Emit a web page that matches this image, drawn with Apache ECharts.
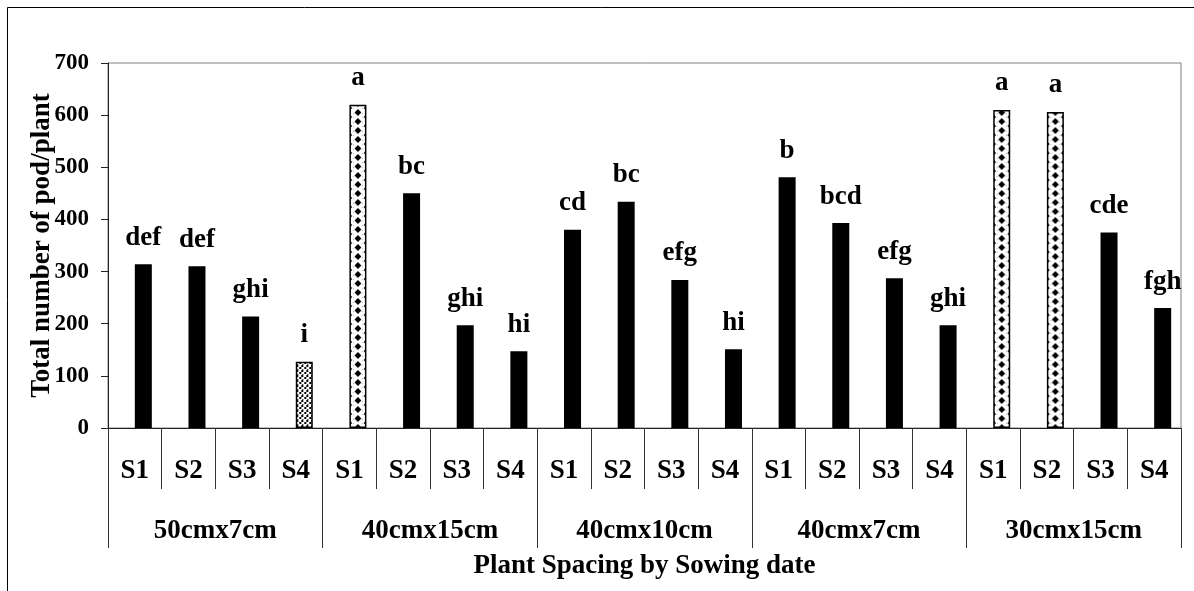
<!DOCTYPE html>
<html>
<head>
<meta charset="utf-8">
<title>Total number of pod/plant</title>
<script src="https://cdn.jsdelivr.net/npm/echarts@6/dist/echarts.min.js"></script>
<style>
  html, body { margin: 0; padding: 0; background: #fff; }
  #chartbox { width: 1194px; height: 591px; }
</style>
</head>
<body>
<div id="chartbox"></div>
<script>
// sowing date under each spacing
var sowingDates = ['S1', 'S2', 'S3', 'S4', 'S1', 'S2', 'S3', 'S4', 'S1', 'S2',
                   'S3', 'S4', 'S1', 'S2', 'S3', 'S4', 'S1', 'S2', 'S3', 'S4'];
var spacings = ['50cmx7cm', '40cmx15cm', '40cmx10cm', '40cmx7cm', '30cmx15cm'];
// pods per plant
var podCounts = [314, 310, 214, 127, 620, 450, 197, 147, 380, 434,
                 284, 151, 481, 393, 287, 197, 610, 606, 375, 230];
// DMRT letters over the bars
var letters = ['def', 'def', 'ghi', 'i', 'a', 'bc', 'ghi', 'hi', 'cd', 'bc',
               'efg', 'hi', 'b', 'bcd', 'efg', 'ghi', 'a', 'a', 'cde', 'fgh'];
var yMin = 0, yMax = 700, yStep = 100;

var FONT = "'Liberation Serif', 'Times New Roman', serif";

/**
 * diamond fill used on the 'a' bars
 */
function diamondTile() {
    var c = document.createElement('canvas');
    c.width = 16; c.height = 9;
    var g = c.getContext('2d');
    g.fillStyle = '#fff';
    g.fillRect(0, 0, 16, 9);
    g.fillStyle = '#bbb';
    g.fillRect(3, 0, 1, 1); g.fillRect(12, 0, 1, 1);
    g.fillRect(3, 5, 1, 1); g.fillRect(12, 5, 1, 1);
    g.fillStyle = '#000';
    var pts = [[8, 4.5, 3.4], [0, 0, 2.2], [16, 0, 2.2], [0, 9, 2.2], [16, 9, 2.2]];
    pts.forEach(function (p) {
        g.beginPath();
        g.moveTo(p[0], p[1] - p[2]);
        g.lineTo(p[0] + p[2], p[1]);
        g.lineTo(p[0], p[1] + p[2]);
        g.lineTo(p[0] - p[2], p[1]);
        g.closePath();
        g.fill();
    });
    return c;
}

/**
 * fine dots used on the 'i' bar
 */
function dotTile() {
    var c = document.createElement('canvas');
    c.width = 5; c.height = 5;
    var g = c.getContext('2d');
    g.fillStyle = '#fff';
    g.fillRect(0, 0, 5, 5);
    g.fillStyle = '#000';
    g.fillRect(0, 0, 2, 2);
    g.fillRect(3, 2, 2, 2);
    g.fillRect(1, 4, 1, 1);
    return c;
}

var diamonds = diamondTile();
var dots = dotTile();

function barItems(offsets) {
    return podCounts.map(function (v, i) {
        var ox = offsets ? offsets[i] : 0;
        if (letters[i] === 'a') {
            return { value: v, itemStyle: { color: { image: diamonds, repeat: 'repeat', x: ox, y: 0 }, borderColor: '#000', borderWidth: 1.5 } };
        }
        if (letters[i] === 'i') {
            return { value: v, itemStyle: { color: { image: dots, repeat: 'repeat', x: ox, y: 0 }, borderColor: '#000', borderWidth: 1.5 } };
        }
        return { value: v };
    });
}

var chart = echarts.init(document.getElementById('chartbox'));

var option = {
    animation: false,
    backgroundColor: '#fff',
    graphic: [{
        type: 'rect',
        shape: { x: 7.5, y: 7.5, width: 1400, height: 800 },
        style: { fill: 'none', stroke: '#000', lineWidth: 1 },
        silent: true
    }],
    grid: {
        left: 108, right: 13, top: 63, bottom: 163,
        show: true,
        borderColor: '#808080',
        borderWidth: 1
    },
    xAxis: [{
        type: 'category',
        data: sowingDates,
        position: 'bottom',
        axisLine: { lineStyle: { color: '#222', width: 1 } },
        axisTick: { show: true, interval: 0, length: 61, lineStyle: { color: '#333' } },
        axisLabel: { interval: 0, margin: 30, color: '#000', fontFamily: FONT, fontWeight: 'bold', fontSize: 27 }
    }, {
        type: 'category',
        data: spacings,
        position: 'bottom',
        axisLine: { show: false },
        axisTick: { show: true, interval: 0, length: 120, lineStyle: { color: '#333' } },
        axisLabel: { interval: 0, margin: 90, color: '#000', fontFamily: FONT, fontWeight: 'bold', fontSize: 27 },
        name: 'Plant Spacing by Sowing date',
        nameLocation: 'middle',
        nameGap: 125,
        nameMoveOverlap: false,
        nameTextStyle: { color: '#000', fontFamily: FONT, fontWeight: 'bold', fontSize: 27 }
    }],
    yAxis: {
        type: 'value',
        min: yMin,
        max: yMax,
        interval: yStep,
        splitLine: { show: false },
        axisLine: { show: true, lineStyle: { color: '#222' } },
        axisTick: { show: true, length: 7, lineStyle: { color: '#222' } },
        axisLabel: { margin: 19, color: '#000', fontFamily: FONT, fontWeight: 'bold', fontSize: 23 },
        name: 'Total number of pod/plant',
        nameLocation: 'middle',
        nameRotate: 90,
        nameGap: 52,
        nameMoveOverlap: false,
        nameTextStyle: { color: '#000', fontFamily: FONT, fontWeight: 'bold', fontSize: 27 }
    },
    series: [{
        // empty slot so the bars sit right of the category centre
        type: 'bar',
        xAxisIndex: 0,
        data: podCounts.map(function () { return '-'; }),
        barWidth: 17,
        barGap: '0%'
    }, {
        type: 'bar',
        xAxisIndex: 0,
        data: barItems(),
        barWidth: 17,
        barGap: '0%',
        itemStyle: { color: '#000' },
        emphasis: { disabled: true },
        label: {
            show: true,
            position: 'top',
            distance: 13,
            color: '#000',
            fontFamily: FONT,
            fontWeight: 'bold',
            fontSize: 27,
            formatter: function (p) { return letters[p.dataIndex]; }
        }
    }]
};
chart.setOption(option);

// line the fill patterns up with each bar
var offsets = podCounts.map(function (v, i) {
    return chart.convertToPixel({ xAxisIndex: 0 }, i) + 0.5;
});
chart.setOption({ series: [{}, { data: barItems(offsets) }] });
</script>
</body>
</html>
